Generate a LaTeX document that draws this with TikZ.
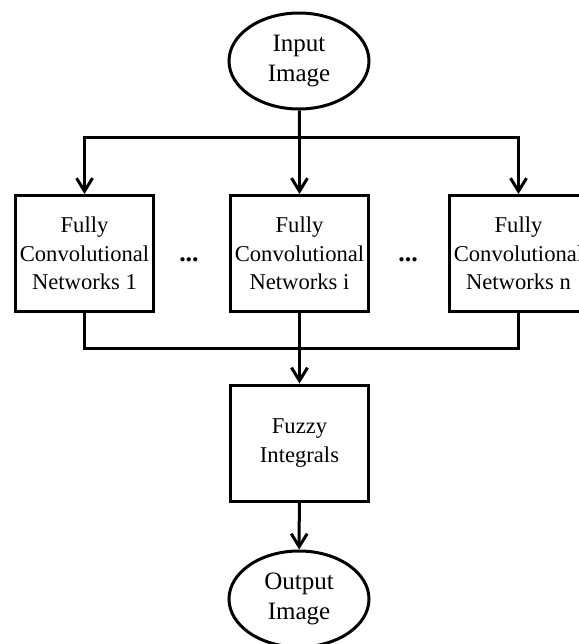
\documentclass[tikz,border=0pt]{standalone}
\usepackage{fontspec}
\setmainfont{Liberation Serif}
\usetikzlibrary{shapes.geometric,arrows.meta}

\begin{document}
\begin{tikzpicture}[x=0.5pt,y=-0.5pt,
  font=\fontsize{11.3pt}{14.25pt}\selectfont,
  every node/.style={align=center,inner sep=0pt},
  io/.style={draw,ellipse,line width=1.5pt,minimum width=70pt,minimum height=48pt,
    font=\fontsize{12.5pt}{15pt}\selectfont},
  netbox/.style={draw,line width=1.5pt,minimum width=69pt,minimum height=58pt},
  arr/.style={line width=1.5pt,-{Straight Barb[length=6.5pt,width=8pt,line width=1.5pt]}},
  wire/.style={line width=1.5pt}]
\useasboundingbox (0,0) rectangle (579,644);
\clip (0,0) rectangle (579,644);
      \node[io] (in) at (299,61) {Input\\Image};
      \node[netbox] (fcn1) at (84.5,253.5) {Fully\\Convolutional\\Networks 1};
      \node[netbox] (fcni) at (299.5,253.5) {Fully\\Convolutional\\Networks i};
      \node[netbox] (fcnn) at (518.5,253.5) {Fully\\Convolutional\\Networks n};
      \node[font=\fontsize{13pt}{15pt}\selectfont] (dots1) at (189,260) {\textbf{...}};
      \node[font=\fontsize{13pt}{15pt}\selectfont] (dots2) at (408,260) {\textbf{...}};
      \node[netbox] (fuzzy) at (299.5,443) {Fuzzy\\Integrals};
      \node[io] (out) at (299,599) {Output\\Image};
      \coordinate (split) at (299.5,137);
      \coordinate (merge) at (299.5,348);
          \draw[wire] (in) -- (split);
          \draw[arr] (split) -| (fcn1);
          \draw[arr] (split) -- (fcni);
          \draw[arr] (split) -| (fcnn);
          \draw[wire] (fcn1) |- (merge);
          \draw[wire] (fcnn) |- (merge);
          \draw[arr] (fcni) -- (fuzzy);
          \draw[arr] (fuzzy) -- (out);
\end{tikzpicture}
\end{document}
